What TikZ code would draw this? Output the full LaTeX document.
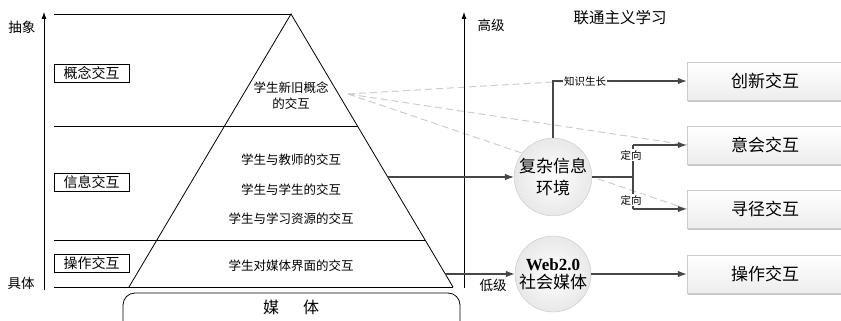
\documentclass[tikz,border=0pt]{standalone}
\usepackage{fontspec}
\setmainfont{Noto Sans CJK SC}
\newfontfamily\latinserif{Liberation Serif}
\usetikzlibrary{arrows.meta,shadows,backgrounds}
\tikzset{
  axisarrow/.style={line width=0.8pt,-{Latex[length=7pt,width=5pt]}},
  frame/.style={line width=0.8pt},
  lbox/.style={draw,line width=0.7pt,minimum width=75pt,minimum height=18pt,inner sep=0pt,font=\fontsize{14}{16}\selectfont},
  ptext/.style={font=\fontsize{12.5}{17}\selectfont,align=center},
  axlabel/.style={font=\fontsize{13.5}{16}\selectfont},
  circ/.style={circle,draw=gray!45,inner color=white,outer color=gray!18,minimum size=76pt,inner sep=0pt,align=center},
  rbox/.style={draw=gray!40,top color=white,bottom color=gray!14,minimum width=156pt,minimum height=38pt,inner sep=0pt,
     font=\fontsize{17}{20}\selectfont,drop shadow={shadow xshift=1pt,shadow yshift=-2pt,fill=gray!55,opacity=0.8}},
  conn/.style={draw=black!72,line width=1.1pt,-{Latex[length=9pt,width=6.5pt]}},
  plain/.style={draw=black!72,line width=1.1pt},
  small/.style={font=\fontsize{10.5}{12}\selectfont,fill=white,inner sep=1pt},
  dashline/.style={draw=gray!40,line width=1pt,dash pattern=on 7pt off 4pt},
}
\begin{document}
\begin{tikzpicture}[x=1pt,y=-1pt]
\useasboundingbox (0,0) rectangle (841,321);
\clip (0,0) rectangle (841,321);

% left axis
\coordinate (ax0) at (44,290);
\coordinate (ax1) at (44,12);
\draw[axisarrow] (ax0) -- (ax1);
\node[axlabel] (abs) at (22,27) {抽象};
\node[axlabel] (con) at (21,283) {具体};

% pyramid
\coordinate (apex) at (291,14);
\coordinate (bl) at (129,287);
\coordinate (br) at (453,287);
\draw[frame] (bl) -- (apex) -- (br);
\draw[frame] (54,14) -- (apex);
\draw[frame] (54,126) -- (358,126);
\draw[frame] (54,240) -- (425,240);
\draw[frame] (54,287) -- (br);

\node[lbox] (b1) at (91.5,73) {概念交互};
\node[lbox] (b2) at (91.5,182.5) {信息交互};
\node[lbox] (b3) at (91.5,263) {操作交互};

\node[ptext] (p1) at (291,96) {学生新旧概念\\[-1pt]的交互};
\node[ptext] (p2) at (291,160) {学生与教师的交互};
\node[ptext] (p3) at (291,190) {学生与学生的交互};
\node[ptext] (p4) at (291,219) {学生与学习资源的交互};
\node[ptext] (p5) at (291,266) {学生对媒体界面的交互};

% media box
\draw[frame,rounded corners=12pt] (123,293) rectangle (460,345);
\node[font=\fontsize{16}{18}\selectfont] (media) at (291,307) {媒\hspace{24pt}体};

% second axis
\coordinate (bx0) at (464,288);
\coordinate (bx1) at (464,12);
\draw[axisarrow] (bx0) -- (bx1);
\node[axlabel] (high) at (491,25) {高级};
\node[axlabel] (low) at (493,285) {低级};
\node[font=\fontsize{15.5}{18}\selectfont] (title) at (620,18) {联通主义学习};

% circles
\node[circ,font=\fontsize{17}{22}\selectfont] (env) at (553,177) {复杂信息\\环境};
\node[circ,font=\fontsize{17}{20}\selectfont] (web) at (553,274) {{\latinserif\bfseries Web2.0}\\[-2pt]社会媒体};

% right boxes
\node[rbox] (cx) at (765,81) {创新交互};
\node[rbox] (yh) at (765,145) {意会交互};
\node[rbox] (xj) at (765,209) {寻径交互};
\node[rbox] (cz) at (765,274) {操作交互};

% dashed lines behind
\coordinate (ds) at (348,94);
\coordinate (dk) at (553,82);
\begin{scope}[on background layer]
\draw[dashline] (ds) -- (dk) -- (cx.west);
\draw[dashline] (ds) -- (yh.west);
\draw[dashline] (ds) -- (xj.west);
\end{scope}

% connectors
\coordinate (pr1) at (388,177);
\coordinate (pr2) at (445,274);
\draw[conn] (pr1) -- (env.west);
\draw[conn] (pr2) -- (web.west);
\draw[conn] (web.east) -- (cz.west);
\draw[conn] (env.north) |- node[small,pos=0.62] {知识生长} (cx.west);

\coordinate (fork) at (633,177);
\coordinate (fkt) at (633,145);
\coordinate (fkb) at (633,209);
\draw[plain] (env.east) -- (fork);
\draw[plain] (fkt) -- (fkb);
\draw[conn] (fkt) -- (yh.west);
\draw[conn] (fkb) -- (xj.west);
\node[small] (d1) at (631,155) {定向};
\node[small] (d2) at (631,200) {定向};
\end{tikzpicture}
\end{document}
